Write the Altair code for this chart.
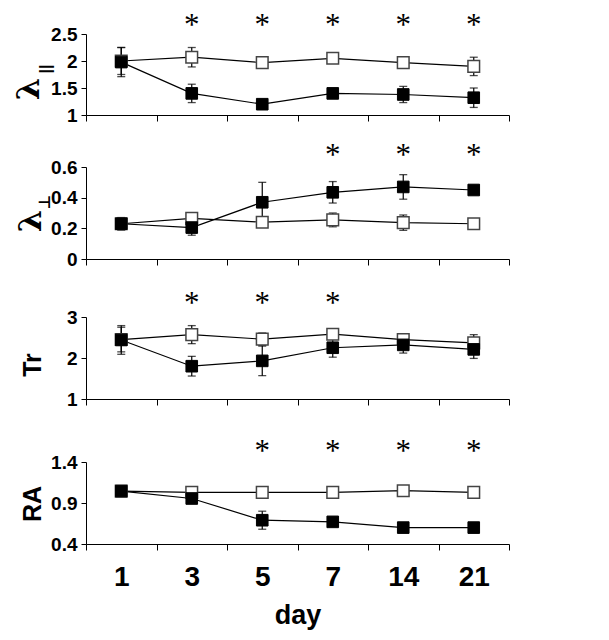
import altair as alt
import pandas as pd

days = ["1", "3", "5", "7", "14", "21"]

# panel 1: lambda parallel
lpar_ctrl = [2.00, 2.07, 1.97, 2.05, 1.97, 1.90]
lpar_ctrl_err = [0.25, 0.18, 0.04, 0.04, 0.04, 0.17]
lpar_trt = [1.98, 1.40, 1.20, 1.40, 1.38, 1.32]
lpar_trt_err = [0.27, 0.17, 0.05, 0.06, 0.15, 0.18]
lpar_stars = ["3", "5", "7", "14", "21"]

# panel 2: lambda perpendicular
lperp_ctrl = [0.23, 0.265, 0.24, 0.255, 0.237, 0.23]
lperp_ctrl_err = [0.04, 0.035, 0.02, 0.045, 0.05, 0.02]
lperp_trt = [0.23, 0.205, 0.37, 0.435, 0.47, 0.45]
lperp_trt_err = [0.04, 0.05, 0.13, 0.07, 0.08, 0.02]
lperp_stars = ["7", "14", "21"]

# panel 3: Tr
tr_ctrl = [2.45, 2.57, 2.46, 2.58, 2.45, 2.37]
tr_ctrl_err = [0.30, 0.22, 0.15, 0.10, 0.10, 0.20]
tr_trt = [2.44, 1.80, 1.93, 2.25, 2.32, 2.21]
tr_trt_err = [0.35, 0.24, 0.36, 0.23, 0.20, 0.22]
tr_stars = ["3", "5", "7"]

# panel 4: RA
ra_ctrl = [1.045, 1.03, 1.03, 1.03, 1.05, 1.03]
ra_ctrl_err = [0.02, 0.02, 0.02, 0.02, 0.02, 0.02]
ra_trt = [1.045, 0.955, 0.69, 0.67, 0.60, 0.60]
ra_trt_err = [0.03, 0.05, 0.11, 0.03, 0.04, 0.02]
ra_stars = ["5", "7", "14", "21"]

LABEL_FONT = "Liberation Sans Narrow, Liberation Sans, Arial"
W = 423


def make_df(ctrl, ctrl_err, trt, trt_err):
    rows = []
    for g, vals, errs in (("ctrl", ctrl, ctrl_err), ("trt", trt, trt_err)):
        for d, v, e in zip(days, vals, errs):
            rows.append({"day": d, "group": g, "mean": v, "lo": v - e, "hi": v + e})
    return pd.DataFrame(rows)


def panel(ctrl, ctrl_err, trt, trt_err, domain, ticks, height, stars, star_y,
          titles, bottom=False):
    df = make_df(ctrl, ctrl_err, trt, trt_err)
    xaxis = alt.Axis(
        tickBand="extent", tickSize=6, tickColor="black", domainColor="black",
        labels=bottom, labelFont=LABEL_FONT, labelFontSize=28, labelFontWeight="bold",
        labelColor="black", labelPadding=13, labelAngle=0,
        title="day" if bottom else None, titleFont=LABEL_FONT, titleFontSize=27,
        titleFontWeight="bold", titleColor="black", titlePadding=11,
    )
    x = alt.X("day:N", sort=days, scale=alt.Scale(type="band", paddingInner=0, paddingOuter=0),
              axis=xaxis)
    ysc = alt.Scale(domain=domain, nice=False, zero=False)
    yaxis = alt.Axis(values=ticks, title=None, tickSize=5, tickColor="black", format=".1~f",
                     labelOverlap=False, domainColor="black", labelFont=LABEL_FONT,
                     labelFontSize=19, labelFontWeight="bold", labelColor="black",
                     labelPadding=4, grid=False)

    def Y(field):
        return alt.Y(field, scale=ysc, axis=yaxis)

    base = alt.Chart(df).encode(x=x)
    rules = base.mark_rule(color="black", strokeWidth=1.2).encode(y=Y("lo:Q"), y2="hi:Q")
    cap_lo = base.mark_tick(color="black", size=8, thickness=1.3, orient="horizontal").encode(
        y=Y("lo:Q"))
    cap_hi = base.mark_tick(color="black", size=8, thickness=1.3, orient="horizontal").encode(
        y=Y("hi:Q"))
    lines = base.mark_line(color="black", strokeWidth=1.2).encode(
        y=Y("mean:Q"), detail="group:N")
    pts_c = base.transform_filter(alt.datum.group == "ctrl").mark_square(
        size=135, filled=True, fill="white", stroke="#444444", strokeWidth=1.5, opacity=1
    ).encode(y=Y("mean:Q"))
    pts_t = base.transform_filter(alt.datum.group == "trt").mark_square(
        size=135, filled=True, fill="black", stroke="black", strokeWidth=1, opacity=1
    ).encode(y=Y("mean:Q"))
    sdf = pd.DataFrame({"day": stars})
    star = alt.Chart(sdf).mark_text(
        text="*", font="Liberation Serif", fontSize=31, color="black", baseline="alphabetic"
    ).encode(x=alt.X("day:N", sort=days), y=alt.value(star_y))
    layers = [rules, cap_lo, cap_hi, lines, pts_c, pts_t, star]
    for t in titles:
        layers.append(
            alt.Chart(pd.DataFrame({"t": [t["text"]]})).mark_text(
                angle=270, align="center", baseline="middle", font=t["font"],
                fontSize=t["size"], fontWeight=t["weight"], color="black"
            ).encode(text="t:N", x=alt.value(t["x"]), y=alt.value(t["y"]))
        )
    return alt.layer(*layers).properties(width=W, height=height)


p1 = panel(lpar_ctrl, lpar_ctrl_err, lpar_trt, lpar_trt_err, [1, 2.5], [1, 1.5, 2, 2.5], 81,
           lpar_stars, 1,
           [{"text": "λ", "font": "DejaVu Serif", "size": 32, "weight": "bold", "x": -57, "y": 55},
            {"text": "||", "font": "Liberation Sans", "size": 16, "weight": "bold", "x": -40, "y": 35}])
p2 = panel(lperp_ctrl, lperp_ctrl_err, lperp_trt, lperp_trt_err, [0, 0.6], [0, 0.2, 0.4, 0.6], 92,
           lperp_stars, -2,
           [{"text": "λ", "font": "DejaVu Serif", "size": 32, "weight": "bold", "x": -55, "y": 54},
            {"text": "⊥", "font": "DejaVu Sans", "size": 16, "weight": "bold", "x": -41, "y": 35}])
p3 = panel(tr_ctrl, tr_ctrl_err, tr_trt, tr_trt_err, [1, 3], [1, 2, 3], 82,
           tr_stars, -4,
           [{"text": "Tr", "font": "Liberation Sans", "size": 25, "weight": "bold", "x": -53, "y": 48}])
p4 = panel(ra_ctrl, ra_ctrl_err, ra_trt, ra_trt_err, [0.4, 1.4], [0.4, 0.9, 1.4], 82,
           ra_stars, -1,
           [{"text": "RA", "font": "Liberation Sans", "size": 25, "weight": "bold", "x": -53, "y": 42}],
           bottom=True)

inner3 = alt.vconcat(p3, p4, spacing=63, bounds="flush")
inner2 = alt.vconcat(p2, inner3, spacing=58, bounds="flush")
chart = alt.vconcat(p1, inner2, spacing=52, bounds="flush",
                    padding={"top": 2, "left": 5, "right": 5, "bottom": 5}).configure_view(
    stroke=None
).configure_axis(grid=False).properties(background="white")

chart.save("out.html", embed_options={"renderer": "svg", "actions": False})
